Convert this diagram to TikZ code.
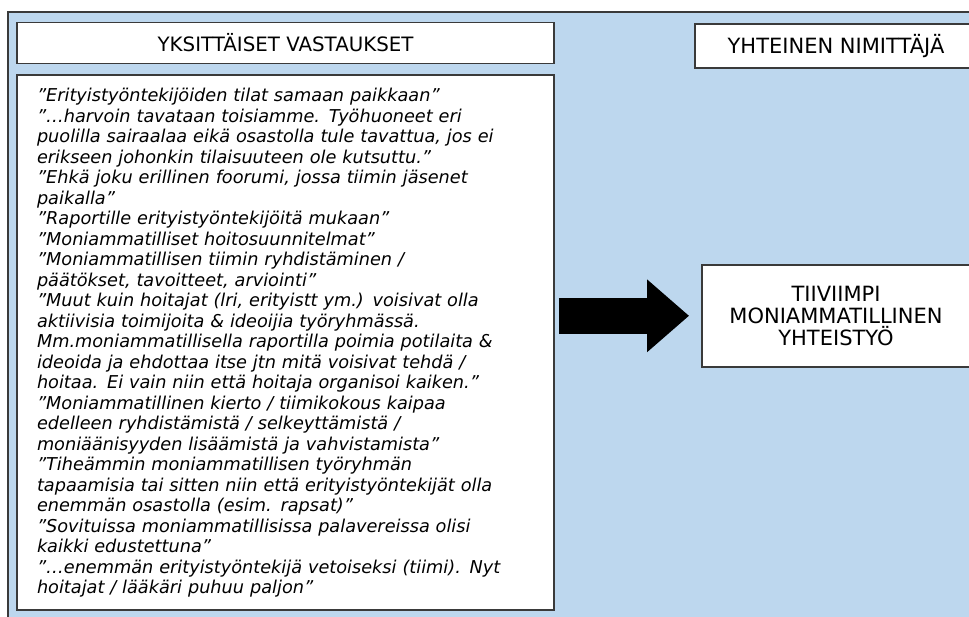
\documentclass[tikz,border=0pt]{standalone}
\usepackage{fontspec}
\setmainfont{DejaVu Sans}
\usetikzlibrary{positioning,arrows.meta}

\definecolor{panelblue}{HTML}{BDD7EE}
\definecolor{framegray}{HTML}{3A3A3A}

\begin{document}
\begin{tikzpicture}[x=1pt, y=-1pt,
                    box/.style={draw=framegray, line width=1.8pt, fill=white, text=black},
                    header/.style={box, font=\fontsize{19.8}{22}\selectfont},
                    answers/.style={box, text width=497pt, inner xsep=20pt, minimum height=535pt, align=left, font=\itshape\fontsize{17.7}{20.5}\selectfont},
                    outcome/.style={box, align=center, minimum width=268pt, minimum height=102pt, font=\fontsize{21}{22}\selectfont},
                    bigarrow/.style={line width=36pt, -{Triangle[length=42pt, width=70pt]}, black},
                ]
                \useasboundingbox (0,0) rectangle (969,616);
                \clip (0,0) rectangle (969,616);
                %Background
                \fill[panelblue] (8,12) rectangle (1000,640);
                \draw[framegray, line width=1.8pt] (8,640) -- (8,12) -- (1000,12);
                %Nodes
                \node[header, minimum width=537pt, minimum height=41pt] (yks) at (285.5,43) {YKSITTÄISET VASTAUKSET};
                \node[answers] (vast) [below=10pt of yks] {%
                    ”Erityistyöntekijöiden tilat samaan paikkaan”\\
                    ”…harvoin tavataan toisiamme. Työhuoneet eri\\
                    puolilla sairaalaa eikä osastolla tule tavattua, jos ei\\
                    erikseen johonkin tilaisuuteen ole kutsuttu.”\\
                    ”Ehkä joku erillinen foorumi, jossa tiimin jäsenet\\
                    paikalla”\\
                    ”Raportille erityistyöntekijöitä mukaan”\\
                    ”Moniammatilliset hoitosuunnitelmat”\\
                    ”Moniammatillisen tiimin ryhdistäminen /\\
                    päätökset, tavoitteet, arviointi”\\
                    ”Muut kuin hoitajat (lri, erityistt ym.) voisivat olla\\
                    aktiivisia toimijoita \& ideoijia työryhmässä.\\
                    Mm.moniammatillisella raportilla poimia potilaita \&\\
                    ideoida ja ehdottaa itse jtn mitä voisivat tehdä /\\
                    hoitaa. Ei vain niin että hoitaja organisoi kaiken.”\\
                    ”Moniammatillinen kierto / tiimikokous kaipaa\\
                    edelleen ryhdistämistä / selkeyttämistä /\\
                    moniäänisyyden lisäämistä ja vahvistamista”\\
                    ”Tiheämmin moniammatillisen työryhmän\\
                    tapaamisia tai sitten niin että erityistyöntekijät olla\\
                    enemmän osastolla (esim. rapsat)”\\
                    ”Sovituissa moniammatillisissa palavereissa olisi\\
                    kaikki edustettuna”\\
                    ”…enemmän erityistyöntekijä vetoiseksi (tiimi). Nyt\\
                    hoitajat / lääkäri puhuu paljon”};
                \node[header, font=\fontsize{21}{22}\selectfont, minimum width=282pt, minimum height=44pt] (yht) at (836,46) {YHTEINEN NIMITTÄJÄ};
                \node[outcome] (tulos) [below=195pt of yht] {TIIVIIMPI\\MONIAMMATILLINEN\\YHTEISTYÖ};
                %Arrow
                \draw[bigarrow] ([xshift=4pt]vast.east |- tulos.west) -- ([xshift=-12pt]tulos.west);
            \end{tikzpicture}
\end{document}
